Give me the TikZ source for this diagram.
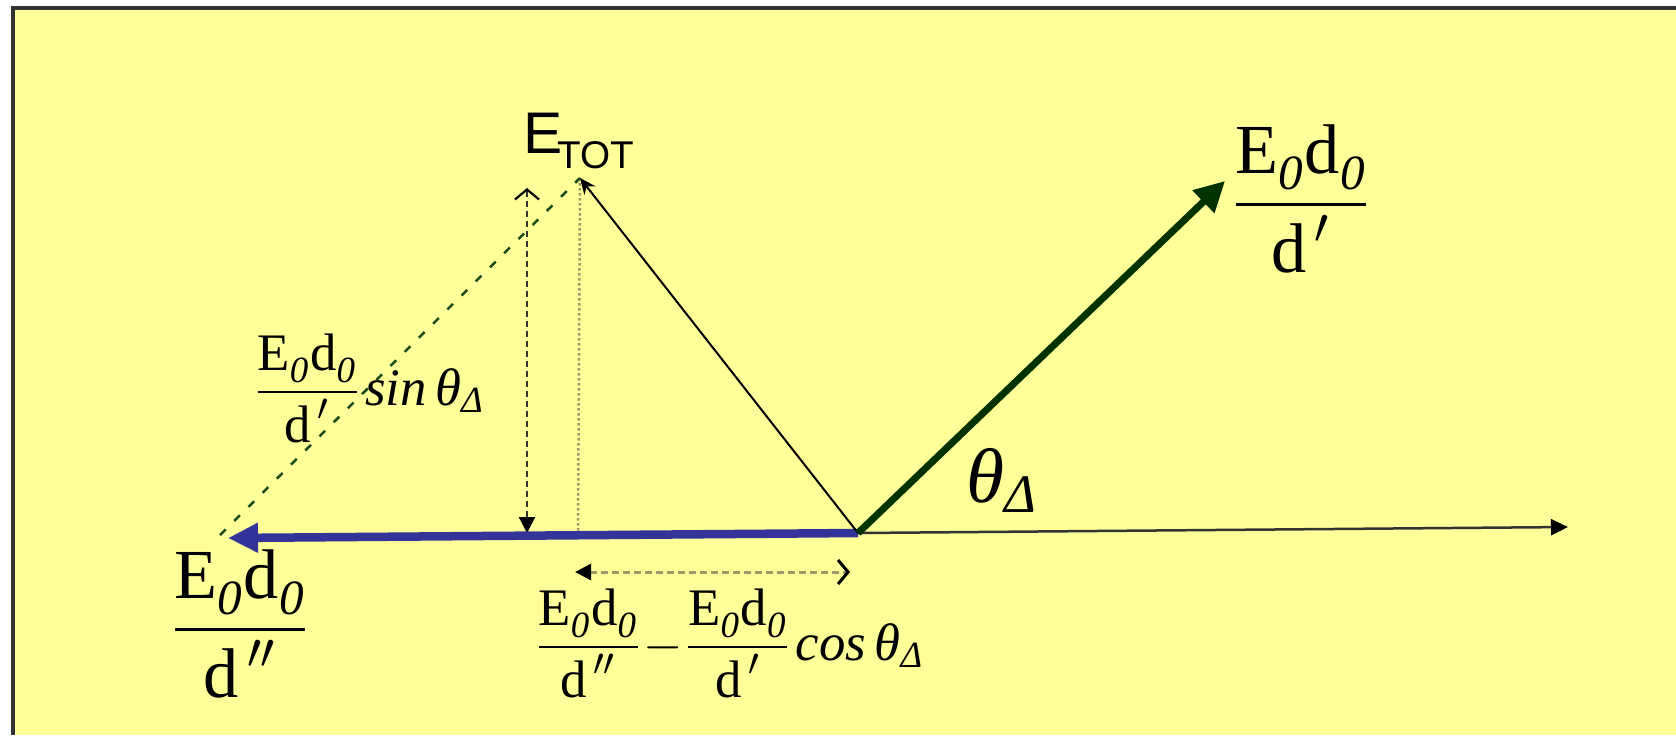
\documentclass[tikz,border=0pt]{standalone}
\usepackage{amsmath}
\usepackage{fontspec}
\setmainfont{Liberation Serif}
\setsansfont{Liberation Sans}
\usepackage{xcolor}
\definecolor{paper}{HTML}{FFFF99}
\definecolor{rim}{HTML}{333333}
\definecolor{fieldblue}{HTML}{333399}
\definecolor{fieldgreen}{HTML}{003300}
\definecolor{dashgreen}{HTML}{1A4D1A}
\definecolor{guide}{HTML}{9A9A66}
\usepackage{tikz}
\usetikzlibrary{arrows.meta}

\newcommand{\EdO}{\text{E}_{\text{\itshape\raisebox{-0.25ex}{0}}}\text{d}_{\text{\itshape\raisebox{-0.25ex}{0}}}}
\newcommand{\thD}{\text{\itshape θ}_{\text{\itshape Δ}}}
\newcommand{\tightfrac}{\nulldelimiterspace=0pt\relax}

\begin{document}
\begin{tikzpicture}[x=0.01cm, y=-0.01cm, >=Stealth,
  every node/.style={inner sep=0pt},
  fracbig/.style={font=\fontsize{20}{24}\selectfont},
  fracmid/.style={font=\fontsize{15}{18}\selectfont, anchor=base west}]

  \useasboundingbox (0,0) rectangle (1676,735);
  \fill[white] (0,0) rectangle (1676,735);
  \fill[paper] (13,8) rectangle (1676,735);
  \draw[rim, line width=0.045cm] (13,735) -- (13,8) -- (1676,8);

  \coordinate (O) at (858,533);
  \coordinate (tot) at (580,178);
  \coordinate (totfoot) at (578,531);
  \coordinate (gtip) at (1225,181);
  \coordinate (btip) at (228,538);
  \coordinate (xend) at (1568,527);
  \coordinate (gfoot) at (220,535);
  \coordinate (htop) at (527,188);
  \coordinate (hbot) at (527,533);
  \coordinate (dl) at (575,572);
  \coordinate (dr) at (850,572);

  % guides
  \draw[guide, line width=0.025cm, dash pattern=on 0.025cm off 0.025cm] (tot) -- (totfoot);
  \draw[dashgreen, line width=0.025cm, dash pattern=on 0.08cm off 0.12cm] (gfoot) -- (tot);
  \draw[rim, line width=0.022cm, dash pattern=on 0.06cm off 0.04cm,
        {Straight Barb[length=0.1cm,width=0.24cm,color=black]}-{Triangle[length=0.16cm,width=0.16cm,color=black]}]
        (htop) -- (hbot);
  \draw[guide, line width=0.03cm, dash pattern=on 0.07cm off 0.04cm,
        {Triangle[length=0.16cm,width=0.16cm,color=black]}-{Straight Barb[length=0.1cm,width=0.24cm,color=black]}]
        (dl) -- (dr);

  % vectors
  \draw[fieldblue, line width=0.085cm, -{Triangle[length=0.3cm,width=0.28cm]}] (O) -- (btip);
  \draw[rim, line width=0.025cm, -{Triangle[length=0.17cm,width=0.16cm,color=black]}] (O) -- (xend);
  \draw[black, line width=0.02cm, -{Stealth[length=0.16cm,width=0.14cm]}] (O) -- (tot);
  \draw[fieldgreen, line width=0.07cm, -{Triangle[length=0.3cm,width=0.3cm]}] (O) -- (gtip);

  % labels
  \node[font=\sffamily, anchor=base west] (etot) at (523,153)
    {\fontsize{16.7}{20}\selectfont E\kern-0.05cm\raisebox{-0.15cm}{\fontsize{11}{13}\selectfont TOT}};
  \node[fracbig] (far) at (1301,199) {$\dfrac{\EdO}{\text{d}^{\,\prime}}$};
  \node[fracbig] (near) at (240,624) {$\dfrac{\EdO}{\text{d}^{\,\prime\prime}}$};
  \node[fracmid] (sinlbl) at (257,405)
    {$\tightfrac\dfrac{\EdO}{\text{d}^{\,\prime}}\,\text{\itshape sin}\,\thD$};
  \node[fracmid] (coslbl) at (538,660)
    {$\tightfrac\dfrac{\EdO}{\text{d}^{\,\prime\prime}}\mkern-2mu-\mkern-2mu\dfrac{\EdO}{\text{d}^{\,\prime}}\,\text{\itshape cos}\,\thD$};
  \node[font=\fontsize{22}{26}\selectfont, anchor=base west] (theta) at (966,502) {$\thD$};

\end{tikzpicture}
\end{document}
